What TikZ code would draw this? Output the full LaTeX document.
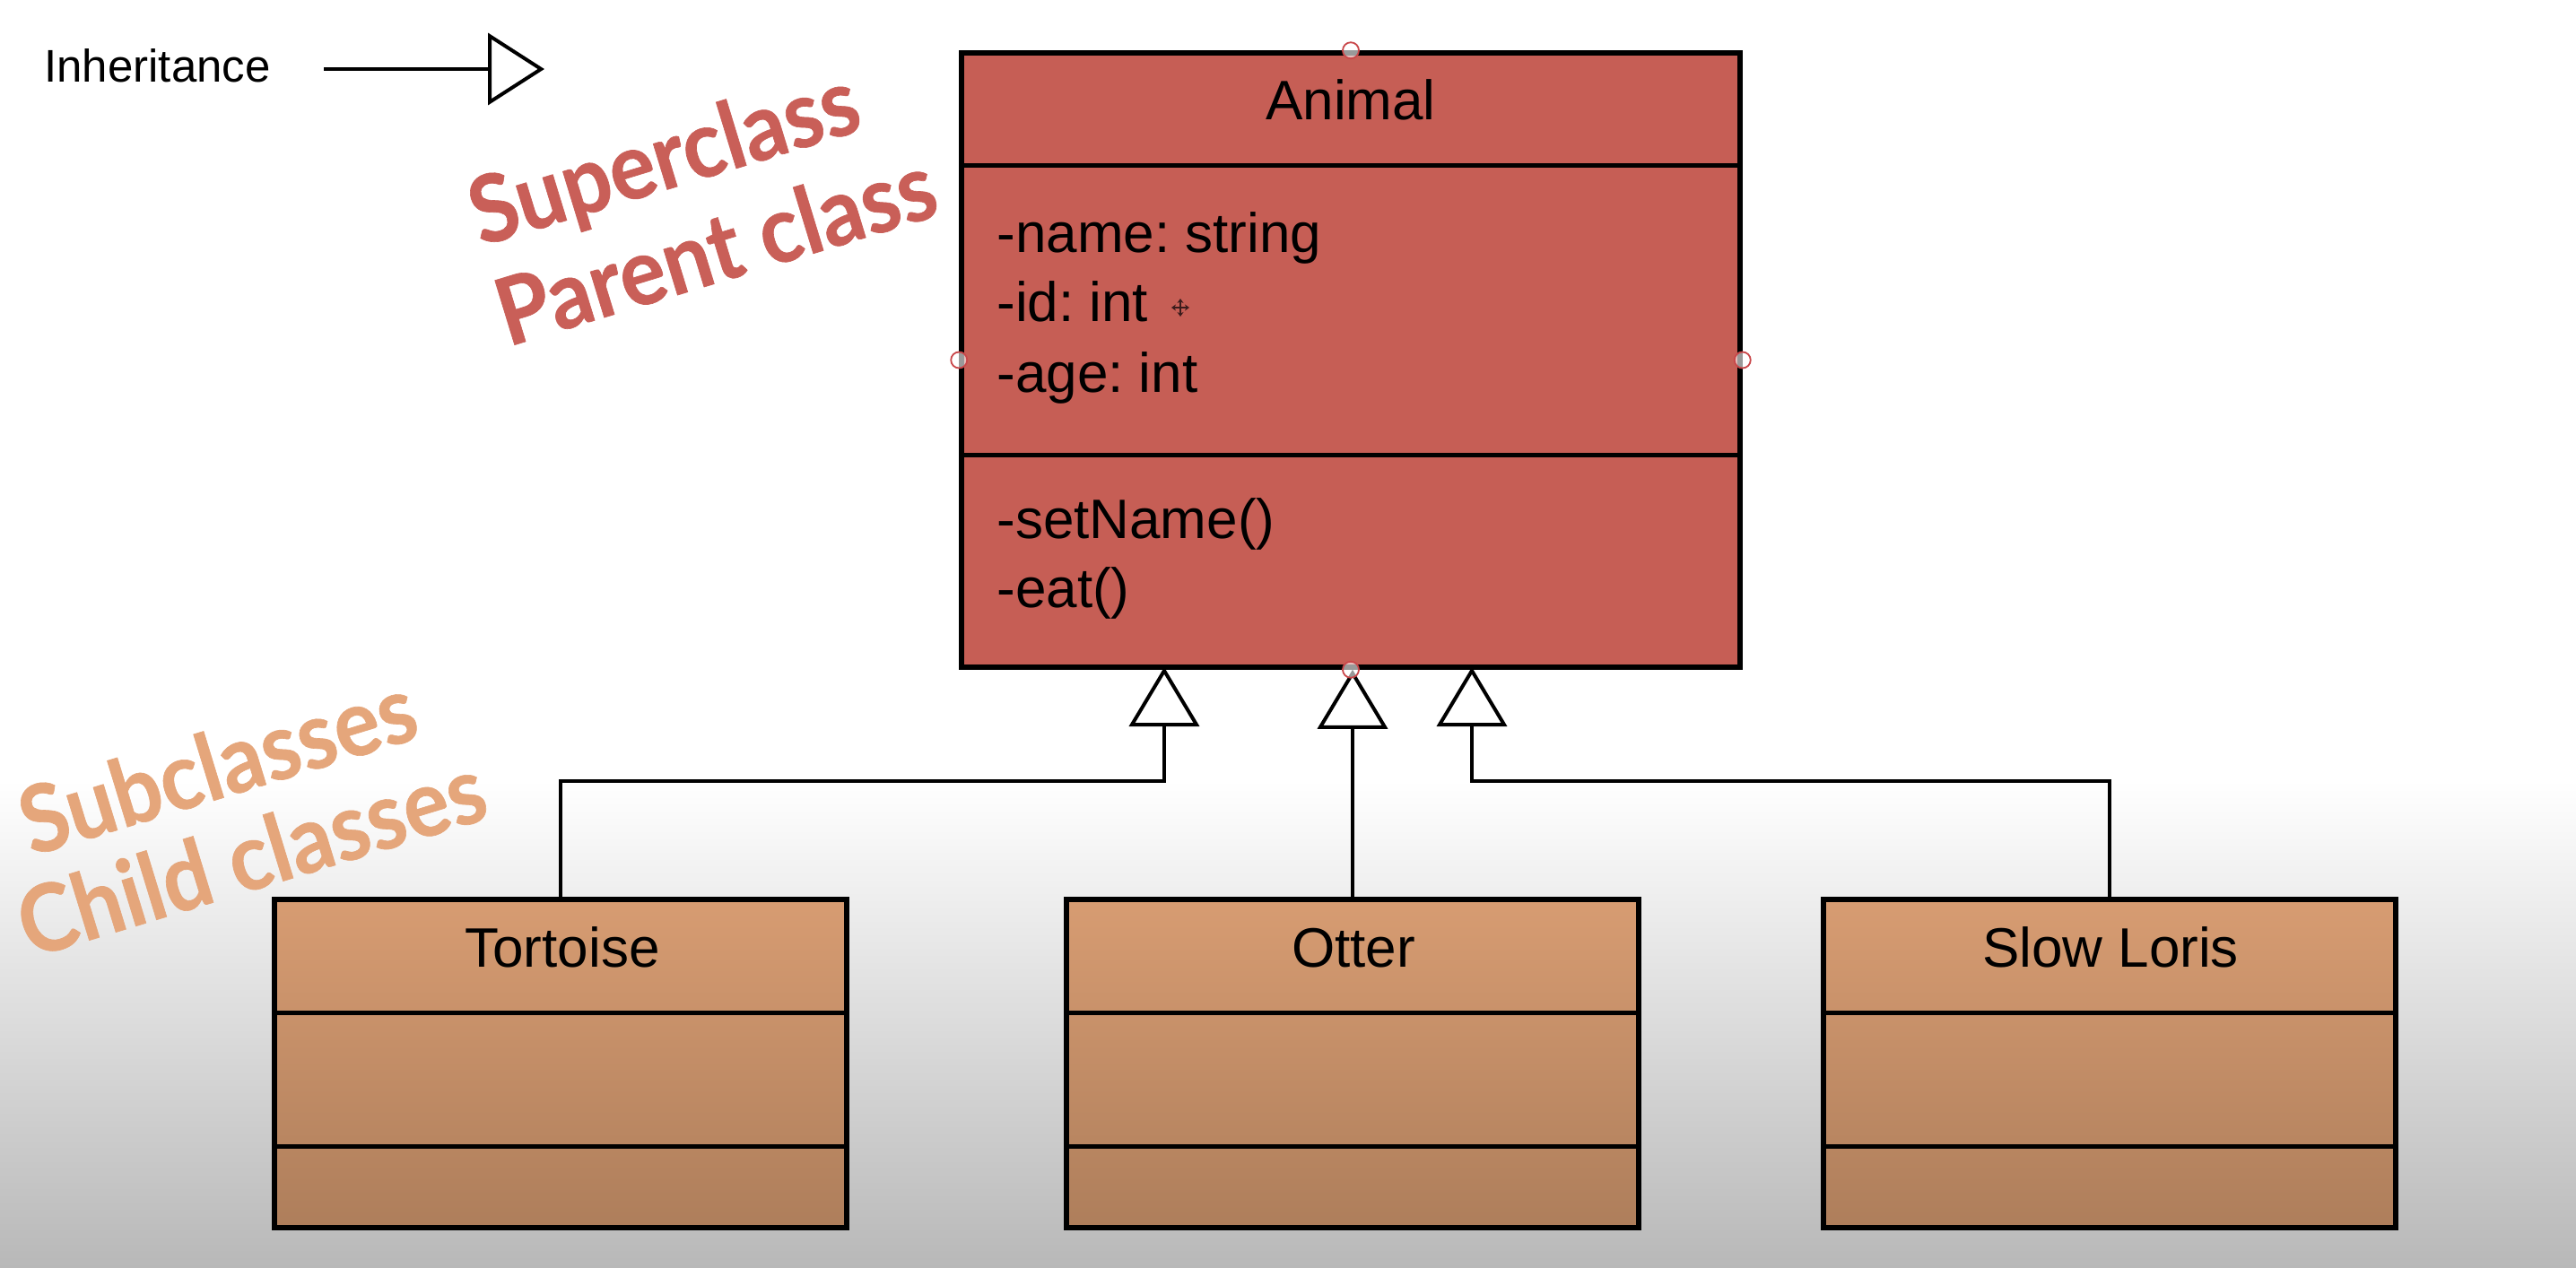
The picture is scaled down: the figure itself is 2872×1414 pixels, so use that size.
\documentclass[tikz,border=0pt]{standalone}
\usepackage{fontspec}
\setmainfont{Liberation Sans}
\newfontfamily\notefont[FakeStretch=0.92, BoldFeatures={FakeBold=0.6}]{Lato}
\usetikzlibrary{arrows.meta}
\definecolor{animalfill}{HTML}{C65E55}
\definecolor{childtop}{HTML}{D79C72}
\definecolor{childbot}{HTML}{AE7E5B}
\definecolor{bgbot}{HTML}{B8B8B8}
\definecolor{superc}{HTML}{C95F58}
\definecolor{subc}{HTML}{E5A67B}
\definecolor{handle}{HTML}{C9474A}
\definecolor{cursorc}{HTML}{3B1C1C}
\tikzset{
  box/.style={draw=black, line width=2.75pt, inner sep=0pt},
  childbox/.style={box, top color=childtop, bottom color=childbot, minimum width=319pt, minimum height=183pt},
  divider/.style={line width=2.5pt},
  hdr/.style={anchor=base, inner sep=0pt, font=\fontsize{31pt}{37pt}\selectfont},
  member/.style={anchor=base west, inner sep=0pt, font=\fontsize{31pt}{37pt}\selectfont\frenchspacing},
  inh/.style={line width=2pt, -{Triangle[length=33pt, width=39pt, fill=white]}},
  note/.style={anchor=base west, inner sep=0pt, rotate=17, font=\notefont\bfseries\fontsize{52pt}{62pt}\selectfont},
  hnd/.style={draw=handle, line width=0.9pt, fill=white, fill opacity=0.6}
}
\begin{document}
\begin{tikzpicture}[x=0.5pt, y=-0.5pt]
\useasboundingbox (0,0) rectangle (2872,1414);
\fill[white] (0,0) rectangle (2872,1414);
\shade[top color=white, bottom color=bgbot] (0,870) rectangle (2872,1414);

% legend
\node[anchor=base west, inner sep=0pt, font=\fontsize{25.5pt}{30pt}\selectfont] (legend) at (49,91) {Inheritance};
\coordinate (legS) at (361,77);
\coordinate (legE) at (607,77);
\draw[line width=2pt, -{Triangle[length=31.5pt, width=40pt, fill=white]}] (legS) -- (legE);

% superclass
\node[box, fill=animalfill, minimum width=434pt, minimum height=342.5pt] (animal) at (1506,401.5) {};
\draw[divider] (1072,184) -- (1940,184);
\draw[divider] (1072,507) -- (1940,507);
\node[hdr] (animalname) at (1506,133) {Animal};
\node[member] (attr1) at (1111,281) {-name: string};
\node[member] (attr2) at (1111,358) {-id: int};
\node[member] (attr3) at (1111,437) {-age: int};
\node[member] (op1) at (1111,600) {-setName()};
\node[member] (op2) at (1111,677) {-eat()};

% subclasses
\node[childbox] (tortoise) at (625,1186) {};
\node[childbox] (otter) at (1508,1186) {};
\node[childbox] (loris) at (2352,1186) {};
\foreach \cx in {625,1508,2352}{
  \draw[divider] (\cx-319,1129) -- (\cx+319,1129);
  \draw[divider] (\cx-319,1278) -- (\cx+319,1278);
}
\node[hdr] (tortoiselbl) at (627,1078) {Tortoise};
\node[hdr] (otterlbl) at (1509,1078) {Otter};
\node[hdr] (lorislbl) at (2353,1078) {Slow Loris};

% connectors
\coordinate (t1) at (1298,744);
\coordinate (t3) at (1641,744);
\draw[inh] (tortoise.north) -- ++(0,-129) -| (t1);
\draw[inh] (otter.north) -- (otter.north |- animal.south);
\draw[inh] (loris.north) -- ++(0,-129) -| (t3);

% selection handles
\draw[hnd] (animal.north) circle (4.5pt);
\draw[hnd] (animal.west) circle (4.5pt);
\draw[hnd] (animal.east) circle (4.5pt);
\draw[hnd] (animal.south) circle (4.5pt);

% move cursor
\begin{scope}[shift={(1316,343)}, line width=0.9pt, cursorc]
  \draw[-{Stealth[length=2.5pt,width=3.5pt]}] (0,0) -- (10,0);
  \draw[-{Stealth[length=2.5pt,width=3.5pt]}] (0,0) -- (-10,0);
  \draw[-{Stealth[length=2.5pt,width=3.5pt]}] (0,0) -- (0,10);
  \draw[-{Stealth[length=2.5pt,width=3.5pt]}] (0,0) -- (0,-10);
\end{scope}

% notes
\node[note, text=superc] (sup1) at (536,275) {Superclass};
\node[note, text=superc] (sup2) at (566,387) {Parent class};
\node[note, text=subc] (sub1) at (35,955) {Subclasses};
\node[note, text=subc] (sub2) at (33,1069) {Child classes};
\end{tikzpicture}
\end{document}
